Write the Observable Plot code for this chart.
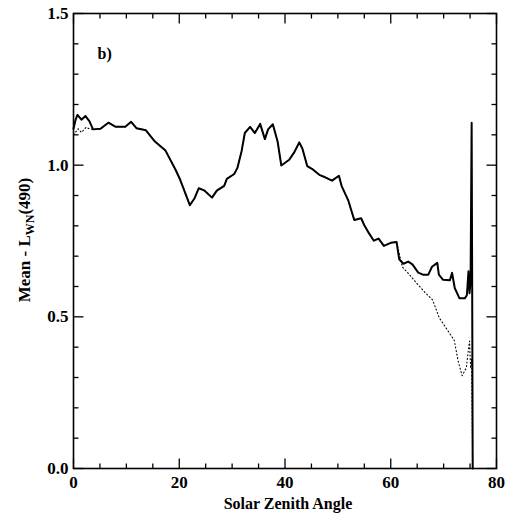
<!DOCTYPE html>
<html>
<head>
<meta charset="utf-8">
<script src="https://cdn.jsdelivr.net/npm/d3@7"></script>
<script src="https://cdn.jsdelivr.net/npm/@observablehq/plot@0.6"></script>
</head>
<body style="margin:0;padding:0;background:white">
<div id="wrap" style="position:relative;width:512px;height:518px">
  <div id="chart"></div>
  <div id="ylab" style="position:absolute;left:26px;top:240px;transform:translate(-50%,-50%) rotate(-90deg);white-space:nowrap;font-family:'Liberation Serif','Times New Roman',serif;font-weight:bold;font-size:17px;line-height:1;color:black">Mean - L<sub style="font-size:12px;vertical-align:-4px;line-height:1">WN</sub>(490)</div>
</div>
<script>
// Solid curve (Mean LWN(490))
const solidX = [0, 0.4, 0.75, 1.5, 2.26, 3.0, 3.7, 5.1, 6.6, 7.9, 9.8, 10.9, 11.9, 13.7, 15.4, 17.4, 19.3, 20.2, 22.0, 22.9, 23.7, 24.7, 26.2, 27.1, 28.5, 29.0, 30.4, 31.0, 31.8, 32.4, 33.4, 34.3, 35.3, 36.2, 36.8, 37.7, 38.6, 39.3, 40.8, 41.8, 42.7, 43.3, 44.2, 45.1, 46.6, 47.6, 48.9, 50.2, 50.7, 52.0, 53.1, 54.4, 55.0, 55.9, 56.8, 57.7, 58.7, 60.0, 61.1, 61.6, 62.4, 63.3, 64.1, 65.2, 66.1, 67.1, 67.8, 68.8, 69.1, 69.9, 71.2, 71.6, 72.1, 73.0, 74.0, 74.4, 74.7, 74.9, 75.1, 75.3, 75.4, 75.5];
const solidY = [1.12, 1.15, 1.166, 1.15, 1.162, 1.145, 1.118, 1.12, 1.14, 1.127, 1.127, 1.143, 1.122, 1.115, 1.078, 1.048, 0.985, 0.951, 0.868, 0.891, 0.924, 0.917, 0.893, 0.916, 0.932, 0.955, 0.971, 0.991, 1.047, 1.106, 1.126, 1.106, 1.136, 1.086, 1.118, 1.135, 1.078, 0.999, 1.018, 1.044, 1.075, 1.054, 0.997, 0.988, 0.967, 0.960, 0.949, 0.965, 0.932, 0.882, 0.819, 0.825, 0.802, 0.775, 0.751, 0.758, 0.734, 0.744, 0.747, 0.69, 0.675, 0.682, 0.673, 0.646, 0.639, 0.639, 0.665, 0.678, 0.639, 0.622, 0.621, 0.645, 0.595, 0.561, 0.561, 0.571, 0.65, 0.578, 0.62, 1.14, 0.6, 0];

// Dotted curve: where it departs from the solid one
const dotStartX = [0, 0.9, 1.5, 2.4, 3.0];
const dotStartY = [1.10, 1.12, 1.108, 1.125, 1.12];
const dotEndX = [62.2, 63.5, 65.1, 66.5, 67.9, 69.2, 70.2, 71.0, 72.0, 72.8, 73.5, 74.3, 74.6, 74.8, 74.9, 75.1, 75.3, 75.5];
const dotEndY = [0.664, 0.64, 0.607, 0.58, 0.556, 0.496, 0.47, 0.449, 0.423, 0.35, 0.306, 0.332, 0.38, 0.405, 0.42, 0.33, 0.362, 0];

// Axis ticks
const xMajor = [0, 20, 40, 60, 80];
const xMinor = [5, 10, 15, 25, 30, 35, 45, 50, 55, 65, 70, 75];
const yMajor = [0, 0.5, 1.0, 1.5];
const yMinor = [0.1, 0.2, 0.3, 0.4, 0.6, 0.7, 0.8, 0.9, 1.1, 1.2, 1.3, 1.4];

const W = 512, H = 518;
const mL = 73, mR = 16, mT = 13, mB = 50;
const pxX = (W - mL - mR) / 80;
const pxY = (H - mT - mB) / 1.5;

const solid = solidX.map((x, i) => ({x, y: solidY[i]}));
const dotted = [
  ...dotStartX.map((x, i) => ({x, y: dotStartY[i]})),
  ...solid.filter(d => d.x >= 3.7 && d.x <= 61.1),
  ...dotEndX.map((x, i) => ({x, y: dotEndY[i]}))
];

// inward tick segments built from the tick arrays
const majL = 10, minL = 5;
const xTicks = [
  ...xMajor.flatMap(v => [{v, a: 0, b: majL / pxY}, {v, a: 1.5, b: 1.5 - majL / pxY}]),
  ...xMinor.flatMap(v => [{v, a: 0, b: minL / pxY}, {v, a: 1.5, b: 1.5 - minL / pxY}])
];
const yTicks = [
  ...yMajor.flatMap(v => [{v, a: 0, b: majL / pxX}, {v, a: 80, b: 80 - majL / pxX}]),
  ...yMinor.flatMap(v => [{v, a: 0, b: minL / pxX}, {v, a: 80, b: 80 - minL / pxX}])
];

const font = "'Liberation Serif', 'Times New Roman', serif";

const chart = Plot.plot({
  width: W, height: H,
  marginLeft: mL, marginRight: mR, marginTop: mT, marginBottom: mB,
  style: {fontFamily: font, fontWeight: "bold", fontSize: "17px", background: "white", color: "black"},
  x: {domain: [0, 80], label: null},
  y: {domain: [0, 1.5], label: null},
  marks: [
    Plot.link(xTicks, {x1: "v", x2: "v", y1: "a", y2: "b", stroke: "black", strokeWidth: 1.3}),
    Plot.link(yTicks, {y1: "v", y2: "v", x1: "a", x2: "b", stroke: "black", strokeWidth: 1.3}),
    Plot.axisX(xMajor, {tickSize: 0, tickPadding: 7, label: null, tickFormat: d => String(d), fontSize: 17}),
    Plot.axisY(yMajor, {tickSize: 0, tickPadding: 5, label: null, tickFormat: d3.format(".1f"), fontSize: 17}),
    Plot.line(dotted, {x: "x", y: "y", stroke: "black", strokeWidth: 1.1, strokeDasharray: "1,2.6"}),
    Plot.line(solid, {x: "x", y: "y", stroke: "black", strokeWidth: 2}),
    Plot.frame({stroke: "black", strokeWidth: 1.6}),
    Plot.text(["b)"], {frameAnchor: "top-left", dx: 24, dy: 34, textAnchor: "start", fontSize: 16, fontWeight: "bold"}),
    Plot.text(["Solar Zenith Angle"], {frameAnchor: "bottom", dx: 3, dy: 40, fontSize: 16, fontWeight: "bold"})
  ]
});

document.getElementById("chart").appendChild(chart);
</script>
</body>
</html>
